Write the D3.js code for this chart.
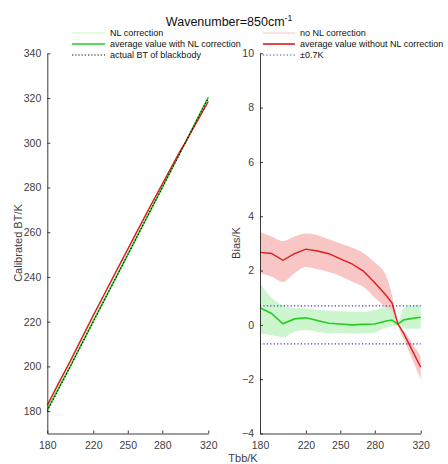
<!DOCTYPE html>
<html><head><meta charset="utf-8">
<script src="https://cdn.jsdelivr.net/npm/d3@7"></script>
<style>body{margin:0;background:#fff}svg{display:block;font-family:"Liberation Sans",Arial,sans-serif}</style>
</head><body>
<svg id="c" width="448" height="464"></svg>
<script>
// ---- data ----
const tbb        = [180,190,200,210,220,230,240,250,260,270,280,290,295,300,305,310,320];
const biasNoNL   = [2.67,2.63,2.38,2.62,2.79,2.72,2.62,2.43,2.25,1.98,1.55,1.08,0.80,0.05,-0.30,-0.72,-1.56];
const biasNL     = [0.63,0.42,0.04,0.22,0.26,0.16,0.06,0.03,0.00,0.02,0.03,0.14,0.18,0.03,0.18,0.22,0.28];
const noNLUpper  = [3.42,3.25,3.08,3.25,3.36,3.30,3.15,3.00,2.85,2.65,2.30,1.80,1.10,0.10,-0.20,-0.50,-1.15];
const noNLLower  = [1.90,1.78,1.58,1.90,2.13,2.05,1.95,1.80,1.60,1.40,1.00,0.60,0.30,-0.05,-0.50,-1.00,-2.00];
const nlUpper    = [1.52,1.00,0.72,0.62,0.60,0.56,0.52,0.50,0.48,0.48,0.55,0.65,0.55,0.10,0.60,0.70,0.72];
const nlLower    = [-0.32,-0.38,-0.45,-0.25,-0.20,-0.25,-0.30,-0.30,-0.32,-0.32,-0.28,-0.10,-0.05,-0.02,-0.12,-0.14,-0.14];
const xTicks     = [180,220,250,280,320];
const yTicksL    = [180,200,220,240,260,280,300,320,340];
const yTicksR    = [-4,-2,0,2,4,6,8,10];
const band       = 0.7;

const C = {nlBand:"#c6f5c6", nlLine:"#22cc22", noBand:"#f9c6c6", noLine:"#dd1c1c", blue:"#3a3ad0", axis:"#262626", text:"#404040"};

const svg = d3.select("#c");
const plotTop = 53.3, plotBot = 433.5;

function axes(g, x, y, yt) {
  const ax = g.append("g").attr("transform",`translate(0,${plotBot})`)
    .call(d3.axisBottom(x).tickValues(xTicks).tickSizeInner(-3).tickSizeOuter(0).tickPadding(8));
  const ay = g.append("g").attr("transform",`translate(${x.range()[0]},0)`)
    .call(d3.axisLeft(y).tickValues(yt).tickSizeInner(-3).tickSizeOuter(0).tickPadding(6));
  [ax,ay].forEach(a=>{
    a.selectAll("path,line").attr("stroke",C.axis).attr("stroke-width",0.9);
    a.selectAll("text").attr("fill",C.text).attr("font-size",10.5).attr("font-family","Liberation Sans, Arial");
  });
}

// ---- left panel ----
const xL = d3.scaleLinear().domain([180,320]).range([47.3,208.3]);
const yL = d3.scaleLinear().domain([170,340]).range([plotBot,plotTop]);
const gL = svg.append("g");
const idx = d3.range(tbb.length);
gL.append("path").attr("d", d3.area().x(i=>xL(tbb[i])).y0(i=>yL(tbb[i]+noNLLower[i])).y1(i=>yL(tbb[i]+noNLUpper[i]))(idx)).attr("fill",C.noBand).attr("opacity",0.7);
gL.append("path").attr("d", d3.area().x(i=>xL(tbb[i])).y0(i=>yL(tbb[i]+nlLower[i])).y1(i=>yL(tbb[i]+nlUpper[i]))(idx)).attr("fill",C.nlBand).attr("opacity",0.6);
gL.append("path").attr("d", d3.line().x(i=>xL(tbb[i])).y(i=>yL(tbb[i]+biasNL[i]))(idx)).attr("fill","none").attr("stroke",C.nlLine).attr("stroke-width",1.6);
gL.append("path").attr("d", d3.line().x(i=>xL(tbb[i])).y(i=>yL(tbb[i]+biasNoNL[i]))(idx)).attr("fill","none").attr("stroke",C.noLine).attr("stroke-width",1.4);
gL.append("path").attr("d", d3.line().x(d=>xL(d)).y(d=>yL(d))([180,320])).attr("fill","none").attr("stroke","#000").attr("stroke-width",1.1).attr("stroke-dasharray","1.2,2");
axes(gL, xL, yL, yTicksL);

// ---- right panel ----
const xR = d3.scaleLinear().domain([180,320]).range([260,420.7]);
const yR = d3.scaleLinear().domain([-4,10]).range([plotBot,plotTop]);
const gR = svg.append("g");
gR.append("path").attr("d", d3.area().x(i=>xR(tbb[i])).y0(i=>yR(noNLLower[i])).y1(i=>yR(noNLUpper[i])).curve(d3.curveMonotoneX)(idx)).attr("fill",C.noBand);
gR.append("path").attr("d", d3.area().x(i=>xR(tbb[i])).y0(i=>yR(nlLower[i])).y1(i=>yR(nlUpper[i])).curve(d3.curveMonotoneX)(idx)).attr("fill",C.nlBand).attr("opacity",0.85);
gR.append("path").attr("d", d3.line().x(i=>xR(tbb[i])).y(i=>yR(biasNL[i]))(idx)).attr("fill","none").attr("stroke",C.nlLine).attr("stroke-width",1.6);
gR.append("path").attr("d", d3.line().x(i=>xR(tbb[i])).y(i=>yR(biasNoNL[i]))(idx)).attr("fill","none").attr("stroke",C.noLine).attr("stroke-width",1.4);
[band,-band].forEach(v=>{
  gR.append("line").attr("x1",xR(180)).attr("x2",xR(320)).attr("y1",yR(v)).attr("y2",yR(v))
    .attr("stroke",C.blue).attr("stroke-width",1.1).attr("stroke-dasharray","1.2,2.2");
});
axes(gR, xR, yR, yTicksR);

// ---- labels ----
svg.append("text").attr("transform","translate(22,243) rotate(-90)").attr("text-anchor","middle")
  .attr("font-size",11).attr("fill",C.text).text("Calibrated BT/K");
svg.append("text").attr("transform","translate(240,243) rotate(-90)").attr("text-anchor","middle")
  .attr("font-size",11).attr("fill",C.text).text("Bias/K");
svg.append("text").attr("x",243).attr("y",462).attr("text-anchor","middle")
  .attr("font-size",11).attr("fill",C.text).text("Tbb/K");
const t = svg.append("text").attr("x",229).attr("y",26).attr("text-anchor","middle").attr("font-size",12.5).attr("fill","#111");
t.append("tspan").text("Wavenumber=850cm");
t.append("tspan").attr("dy",-5).attr("font-size",8.5).text("-1");

// ---- legends ----
const legL = [
  {t:"NL correction", c:C.nlBand, w:1, d:null},
  {t:"average value with NL correction", c:C.nlLine, w:1.6, d:null},
  {t:"actual BT of blackbody", c:"#000", w:1.1, d:"1.2,2"}];
const legR = [
  {t:"no NL correction", c:C.noBand, w:1, d:null},
  {t:"average value without NL correction", c:C.noLine, w:1.6, d:null},
  {t:"±0.7K", c:C.blue, w:1.1, d:"1.2,2.2"}];
function legend(items, x0, x1, tx) {
  items.forEach((it,i)=>{
    const y = 33 + i*11;
    svg.append("line").attr("x1",x0).attr("x2",x1).attr("y1",y).attr("y2",y)
      .attr("stroke",it.c).attr("stroke-width",it.w).attr("stroke-dasharray",it.d);
    svg.append("text").attr("x",tx).attr("y",y+3.3).attr("font-size",9).attr("fill","#111").text(it.t);
  });
}
legend(legL, 72, 105, 110);
legend(legR, 263, 295, 300);
</script>
</body></html>
